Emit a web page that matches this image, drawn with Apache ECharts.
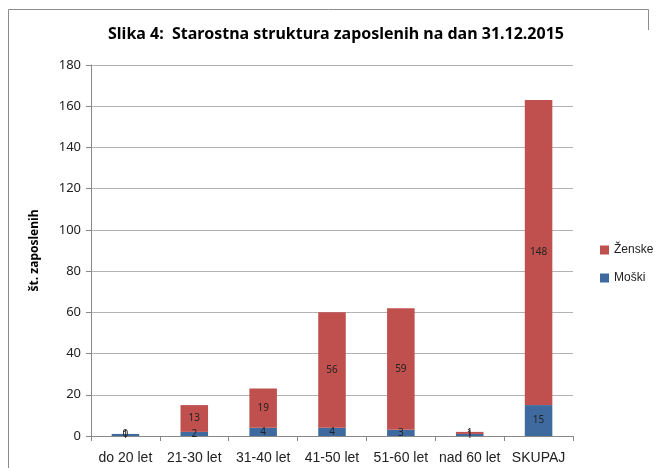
<!DOCTYPE html>
<html><head><meta charset="utf-8">
<script src="https://cdn.jsdelivr.net/npm/echarts@6/dist/echarts.min.js"></script>
<style>html,body{margin:0;padding:0;background:#fff}#c{width:657px;height:468px}</style>
</head><body><div id="c"></div>
<script>
const categories = ['do 20 let','21-30 let','31-40 let','41-50 let','51-60 let','nad 60 let','SKUPAJ'];
const moski = [1, 2, 4, 4, 3, 1, 15];
const zenske = [0, 13, 19, 56, 59, 1, 148];
const yTicks = [0, 180, 20];

const chart = echarts.init(document.getElementById('c'));
const font = '"Noto Sans", "DejaVu Sans", sans-serif';
const narrow = '"Liberation Sans Narrow", "Liberation Sans", sans-serif';
const lbl = {show:true, position:'inside', color:'#222', fontSize:10, fontFamily:font};
chart.setOption({
  animation:false,
  title:{text:'Slika 4:  Starostna struktura zaposlenih na dan 31.12.2015', left:331, top:21, textAlign:'center',
    textStyle:{fontSize:16, fontWeight:'bold', color:'#000', fontFamily:font}},
  graphic:[{type:'polyline', z:-10, shape:{points:[[8.5,468],[8.5,9.5],[648.5,9.5],[648.5,30]]}, style:{fill:'none', stroke:'#8c8c8c', lineWidth:1}, silent:true}],
  legend:{orient:'vertical', left:595, top:239, itemWidth:9, itemHeight:9, itemGap:16,
    data:['Ženske','Moški'], textStyle:{fontSize:12, color:'#222', fontFamily:narrow}, icon:'rect'},
  grid:{left:91, right:84, top:65, bottom:32},
  xAxis:{type:'category', data:categories,
    axisLine:{lineStyle:{color:'#888'}}, axisTick:{show:true, length:5, lineStyle:{color:'#888'}},
    axisLabel:{interval:0, color:'#222', fontSize:14, fontFamily:narrow, margin:15}},
  yAxis:{type:'value', min:yTicks[0], max:yTicks[1], interval:yTicks[2],
    name:'št. zaposlenih', nameLocation:'middle', nameGap:50, nameRotate:90,
    nameTextStyle:{fontSize:12, fontWeight:'bold', color:'#000', fontFamily:font},
    axisLine:{show:true, lineStyle:{color:'#888'}}, axisTick:{show:true, length:5, inside:false, lineStyle:{color:'#888'}},
    splitLine:{show:true, lineStyle:{color:'#b3b3b3'}},
    axisLabel:{color:'#222', fontSize:13, fontFamily:font, margin:10}},
  series:[
    {name:'Moški', type:'bar', stack:'a', data:moski, barWidth:'40%', itemStyle:{color:'#3E6AA0'}, label:lbl},
    {name:'Ženske', type:'bar', stack:'a', data:zenske, barWidth:'40%', itemStyle:{color:'#C0504D'}, label:lbl}
  ]
});
</script></body></html>
